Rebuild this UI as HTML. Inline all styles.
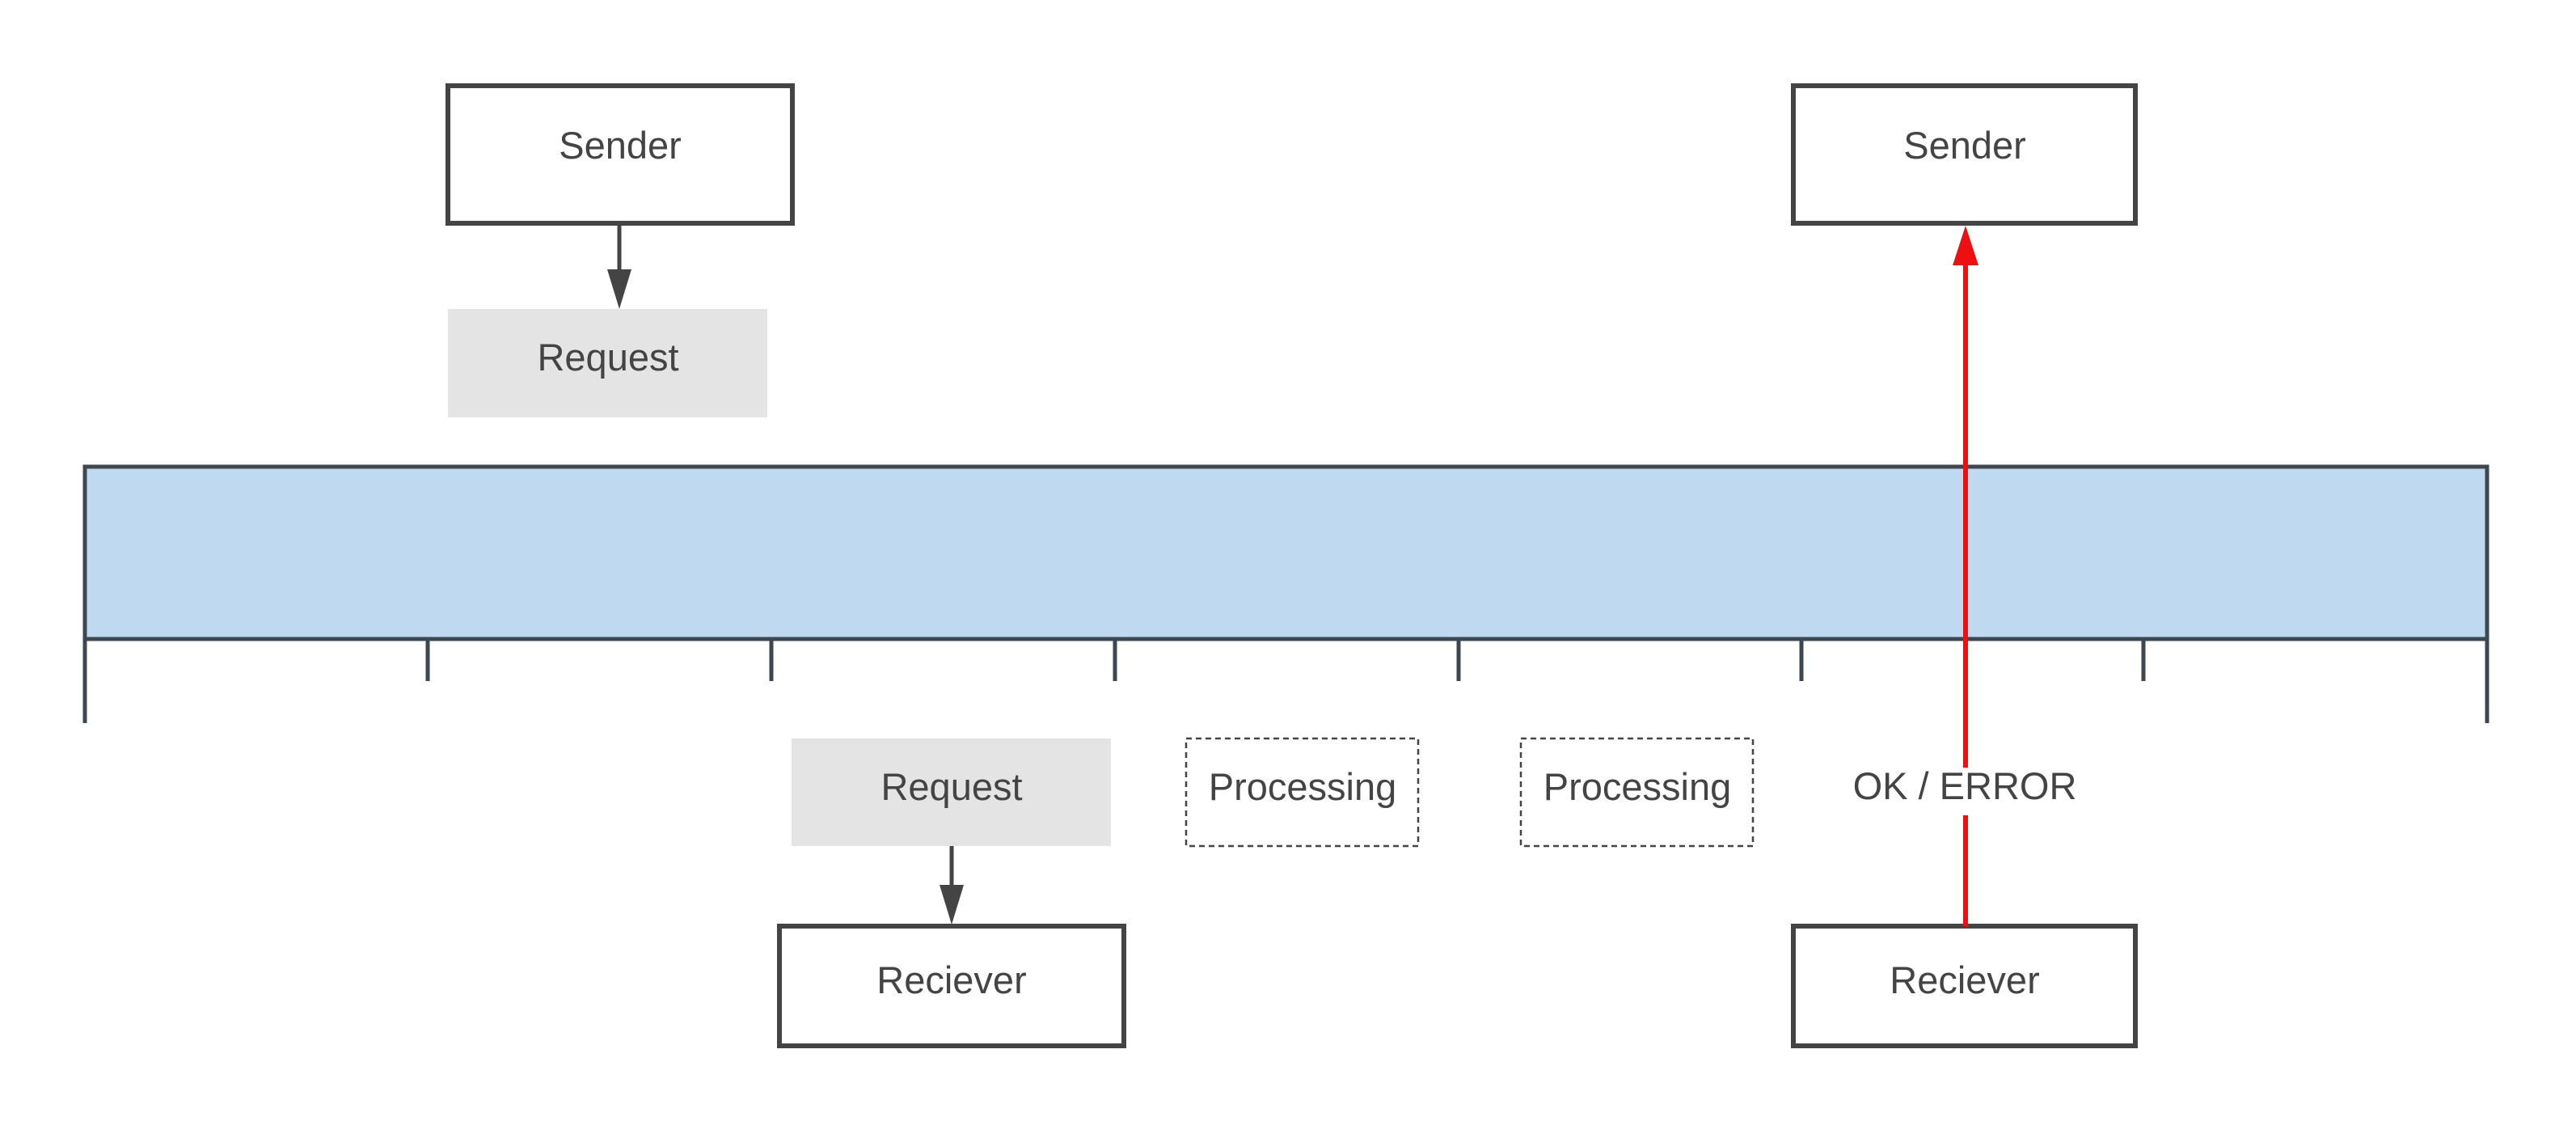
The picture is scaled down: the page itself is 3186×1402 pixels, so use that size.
<!DOCTYPE html>
<html><head><style>html,body{margin:0;padding:0;background:#fff;width:3186px;height:1402px;overflow:hidden}</style></head>
<body>
<svg width="3186" height="1402" viewBox="0 0 3186 1402" xmlns="http://www.w3.org/2000/svg" font-family="Liberation Sans, sans-serif" fill="#444">
<rect x="0" y="0" width="3186" height="1402" fill="#fff"/>
<rect x="105" y="577" width="2971" height="213" fill="#bfdaf0" stroke="#3d4752" stroke-width="5"/>
<g stroke="#3d4752" stroke-width="5">
<line x1="105" y1="790" x2="105" y2="894"/>
<line x1="3076" y1="790" x2="3076" y2="894"/>
<line x1="529" y1="790" x2="529" y2="842"/>
<line x1="954" y1="790" x2="954" y2="842"/>
<line x1="1379" y1="790" x2="1379" y2="842"/>
<line x1="1804" y1="790" x2="1804" y2="842"/>
<line x1="2228" y1="790" x2="2228" y2="842"/>
<line x1="2651" y1="790" x2="2651" y2="842"/>
</g>
<g fill="#fff" stroke="#444" stroke-width="6">
<rect x="554" y="106" width="426" height="170"/>
<rect x="2218" y="106" width="423" height="170"/>
<rect x="964" y="1145" width="426" height="148"/>
<rect x="2218" y="1145" width="423" height="148"/>
</g>
<rect x="554" y="382" width="395" height="134" fill="#e4e4e4"/>
<rect x="979" y="913" width="395" height="133" fill="#e4e4e4"/>
<g fill="none" stroke="#444" stroke-width="2.5" stroke-dasharray="7,5">
<rect x="1467" y="913" width="287" height="133"/>
<rect x="1881" y="913" width="287" height="133"/>
</g>
<line x1="766" y1="276" x2="766" y2="340" stroke="#444" stroke-width="5"/>
<polygon points="751,333 781,333 766,382" fill="#444"/>
<line x1="1177" y1="1046" x2="1177" y2="1100" stroke="#444" stroke-width="5"/>
<polygon points="1162,1094 1192,1094 1177,1143" fill="#444"/>
<g stroke="#ee0f10" stroke-width="6">
<line x1="2431" y1="325" x2="2431" y2="949"/>
<line x1="2431" y1="1008" x2="2431" y2="1145"/>
</g>
<polygon points="2415,328 2447,328 2431,279" fill="#ee0f10"/>
<g font-size="47" text-anchor="middle" fill="#444">
<text x="767" y="196">Sender</text>
<text x="2430" y="196">Sender</text>
<text x="752" y="458">Request</text>
<text x="1177" y="989">Request</text>
<text x="1611" y="989">Processing</text>
<text x="2025" y="989">Processing</text>
<text x="2430" y="988">OK / ERROR</text>
<text x="1177" y="1228">Reciever</text>
<text x="2430" y="1228">Reciever</text>
</g>
</svg>
</body></html>
